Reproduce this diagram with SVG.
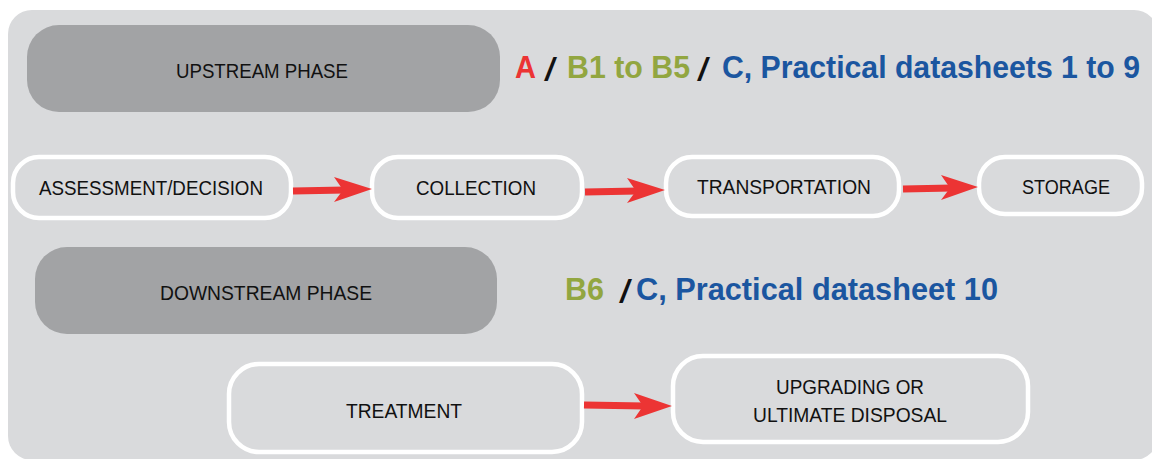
<svg xmlns="http://www.w3.org/2000/svg" width="1152" height="459" viewBox="0 0 1152 459">
<style>
.panel{fill:#d9dadc}
.phase{fill:#a2a3a5}
.node{fill:#d9dadc;stroke:#ffffff;stroke-width:4.5}
.lbl{font-family:"Liberation Sans",Arial,sans-serif;font-size:21px;fill:#111;text-anchor:middle}
.big{font-family:"Liberation Sans",Arial,sans-serif;font-size:31px;font-weight:bold}
.sl{font-family:"Liberation Sans",Arial,sans-serif;font-size:34px;font-weight:normal;fill:#111}
.red{fill:#ec3434}
.green{fill:#92a640}
.blue{fill:#1b56a0}
.conn{stroke:#ec3434;stroke-width:7;fill:none}
.head{fill:#ec3434}
</style>
<rect width="1152" height="459" fill="#ffffff"/>
<rect class="panel" x="8" y="10" width="1150" height="450" rx="24"/>

<g id="upstream">
<rect class="phase" x="27" y="25" width="473" height="87" rx="32"/>
<text class="lbl" x="262" y="78" textLength="172" lengthAdjust="spacingAndGlyphs">UPSTREAM PHASE</text>
</g>
<g id="upstream-refs">
<text class="big red" x="515" y="78" textLength="21" lengthAdjust="spacingAndGlyphs">A</text>
<text class="sl" x="544" y="81" textLength="13" lengthAdjust="spacingAndGlyphs">/</text>
<text class="big green" x="567" y="78" textLength="123" lengthAdjust="spacingAndGlyphs">B1 to B5</text>
<text class="sl" x="697" y="81" textLength="13" lengthAdjust="spacingAndGlyphs">/</text>
<text class="big blue" x="722" y="78" textLength="418" lengthAdjust="spacingAndGlyphs">C, Practical datasheets 1 to 9</text>
</g>

<g id="assessment">
<rect class="node" x="13" y="157" width="278" height="61" rx="26"/>
<text class="lbl" x="151" y="195" textLength="224" lengthAdjust="spacingAndGlyphs">ASSESSMENT/DECISION</text>
</g>
<g id="collection">
<rect class="node" x="372" y="157" width="210" height="61" rx="26"/>
<text class="lbl" x="476" y="195" textLength="120" lengthAdjust="spacingAndGlyphs">COLLECTION</text>
</g>
<g id="transportation">
<rect class="node" x="666" y="157" width="233" height="59" rx="26"/>
<text class="lbl" x="784" y="194" textLength="174" lengthAdjust="spacingAndGlyphs">TRANSPORTATION</text>
</g>
<g id="storage">
<rect class="node" x="979" y="157" width="163" height="57" rx="26"/>
<text class="lbl" x="1066" y="194" textLength="88" lengthAdjust="spacingAndGlyphs">STORAGE</text>
</g>

<g id="downstream">
<rect class="phase" x="35" y="247" width="462" height="87" rx="32"/>
<text class="lbl" x="266" y="300" textLength="212" lengthAdjust="spacingAndGlyphs">DOWNSTREAM PHASE</text>
</g>
<g id="downstream-refs">
<text class="big green" x="565" y="300" textLength="39" lengthAdjust="spacingAndGlyphs">B6</text>
<text class="sl" x="619" y="303" textLength="13" lengthAdjust="spacingAndGlyphs">/</text>
<text class="big blue" x="636" y="300" textLength="362" lengthAdjust="spacingAndGlyphs">C, Practical datasheet 10</text>
</g>

<g id="treatment">
<rect class="node" x="229" y="364" width="353" height="88" rx="30"/>
<text class="lbl" x="404" y="418" textLength="116" lengthAdjust="spacingAndGlyphs">TREATMENT</text>
</g>
<g id="upgrading">
<rect class="node" x="673" y="356" width="355" height="86" rx="30"/>
<text class="lbl" x="850" y="394" textLength="148" lengthAdjust="spacingAndGlyphs">UPGRADING OR</text>
<text class="lbl" x="850" y="422" textLength="194" lengthAdjust="spacingAndGlyphs">ULTIMATE DISPOSAL</text>
</g>

<g id="connectors">
<line class="conn" x1="293" y1="191" x2="345" y2="190"/>
<polygon class="head" points="372,189 334,177 343,190 334,202"/>
<line class="conn" x1="585" y1="192" x2="638" y2="191"/>
<polygon class="head" points="665,190 627,178 636,191 627,203"/>
<line class="conn" x1="903" y1="189" x2="952" y2="188"/>
<polygon class="head" points="978,187 941,175 950,188 941,200"/>
<line class="conn" x1="584" y1="405" x2="645" y2="406"/>
<polygon class="head" points="672,406 634,393 643,406 634,419"/>
</g>
</svg>
